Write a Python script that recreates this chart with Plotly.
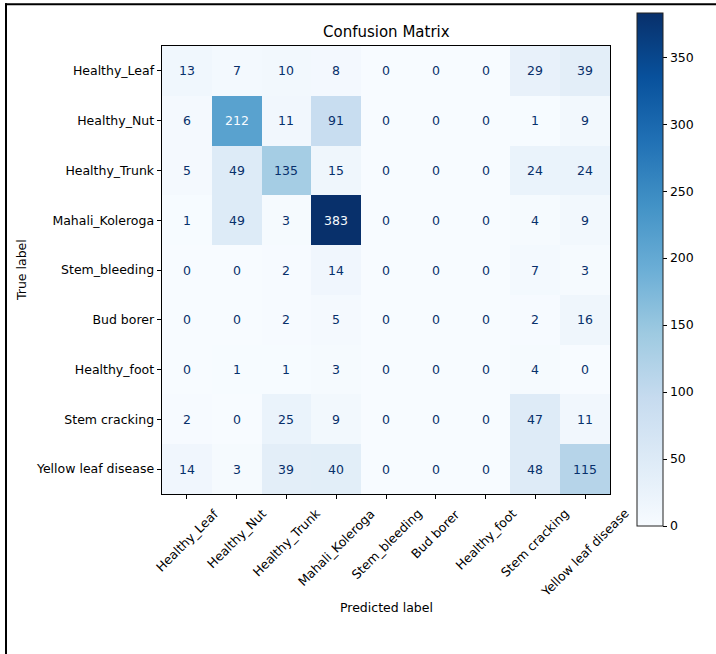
import plotly.graph_objects as go

labels = ["Healthy_Leaf", "Healthy_Nut", "Healthy_Trunk", "Mahali_Koleroga",
          "Stem_bleeding", "Bud borer", "Healthy_foot", "Stem cracking",
          "Yellow leaf disease"]

row_healthy_leaf = [13, 7, 10, 8, 0, 0, 0, 29, 39]
row_healthy_nut = [6, 212, 11, 91, 0, 0, 0, 1, 9]
row_healthy_trunk = [5, 49, 135, 15, 0, 0, 0, 24, 24]
row_mahali = [1, 49, 3, 383, 0, 0, 0, 4, 9]
row_stem_bleeding = [0, 0, 2, 14, 0, 0, 0, 7, 3]
row_bud_borer = [0, 0, 2, 5, 0, 0, 0, 2, 16]
row_healthy_foot = [0, 1, 1, 3, 0, 0, 0, 4, 0]
row_stem_cracking = [2, 0, 25, 9, 0, 0, 0, 47, 11]
row_yellow_leaf = [14, 3, 39, 40, 0, 0, 0, 48, 115]

z = [row_healthy_leaf, row_healthy_nut, row_healthy_trunk, row_mahali,
     row_stem_bleeding, row_bud_borer, row_healthy_foot, row_stem_cracking,
     row_yellow_leaf]

colorbar_ticks = [0, 50, 100, 150, 200, 250, 300, 350]

blues = ["#f7fbff", "#deebf7", "#c6dbef", "#9ecae1", "#6baed6",
         "#4292c6", "#2171b5", "#08519c", "#08306b"]
colorscale = [[i / 8, c] for i, c in enumerate(blues)]

FONT = "DejaVu Sans"
W, H = 716, 654
L, T, PW, PH = 162, 46, 448, 448
R = W - L - PW
B = H - T - PH

def px_x(px):
    return (px - L) / PW

def px_y(py):
    return 1 - (py - T) / PH

n = len(labels)
zmax = max(max(r) for r in z)
zmin = 0
thresh = (zmax + zmin) / 2

fig = go.Figure()
fig.add_trace(go.Heatmap(
    z=z, x=list(range(n)), y=list(range(n)),
    colorscale=colorscale, zmin=zmin, zmax=zmax,
    hoverinfo="skip",
    colorbar=dict(
        x=px_x(637), xanchor="left", xpad=0,
        y=px_y(269.5), yanchor="middle", ypad=0,
        thickness=26, len=513, lenmode="pixels",
        tickvals=colorbar_ticks, ticks="outside", ticklen=4.4,
        tickcolor="black", tickwidth=1,
        tickfont=dict(family=FONT, size=12.5, color="black"),
        outlinewidth=1, outlinecolor="#222",
    ),
))

annotations = []
for i, row in enumerate(z):
    for j, v in enumerate(row):
        annotations.append(dict(
            x=j, y=i, xref="x", yref="y", text=str(v), showarrow=False,
            font=dict(family=FONT, size=12.5,
                      color="#f7fbff" if v > thresh else "#08306b"),
        ))

for j, lab in enumerate(labels):
    annotations.append(dict(
        x=j, y=px_y(503), xref="x", yref="paper", text=lab, showarrow=False,
        textangle=-45, xanchor="center", yanchor="top",
        font=dict(family=FONT, size=12.5, color="black"),
    ))

annotations.append(dict(
    x=0.5, y=px_y(32), xref="paper", yref="paper", text="Confusion Matrix",
    showarrow=False, xanchor="center", yanchor="middle",
    font=dict(family=FONT, size=15, color="black"),
))
annotations.append(dict(
    x=0.5, y=px_y(607), xref="paper", yref="paper", text="Predicted label",
    showarrow=False, xanchor="center", yanchor="middle",
    font=dict(family=FONT, size=12.5, color="black"),
))
annotations.append(dict(
    x=px_x(21), y=0.5, xref="paper", yref="paper", text="True label",
    showarrow=False, xanchor="center", yanchor="middle", textangle=-90,
    font=dict(family=FONT, size=12.5, color="black"),
))

shapes = [
    dict(type="line", xref="paper", yref="paper",
         x0=px_x(6), x1=px_x(6), y0=px_y(3.3), y1=px_y(660),
         line=dict(color="black", width=2)),
    dict(type="line", xref="paper", yref="paper",
         x0=px_x(5), x1=px_x(720), y0=px_y(4.3), y1=px_y(4.3),
         line=dict(color="black", width=2)),
]

axis_common = dict(
    showline=True, mirror=True, linecolor="black", linewidth=1,
    ticks="outside", ticklen=4.4, tickcolor="black", tickwidth=1,
    showgrid=False, zeroline=False,
    tickvals=list(range(n)),
    tickfont=dict(family=FONT, size=12.5, color="black"),
)

fig.update_layout(
    width=W, height=H,
    margin=dict(l=L, r=R, t=T, b=B, pad=0),
    paper_bgcolor="white", plot_bgcolor="white",
    xaxis=dict(range=[-0.5, n - 0.5], showticklabels=False,
               constrain="domain", **axis_common),
    yaxis=dict(range=[n - 0.5, -0.5], ticktext=labels, **axis_common),
    annotations=annotations,
    shapes=shapes,
    showlegend=False,
)

fig.write_html("out.html")
